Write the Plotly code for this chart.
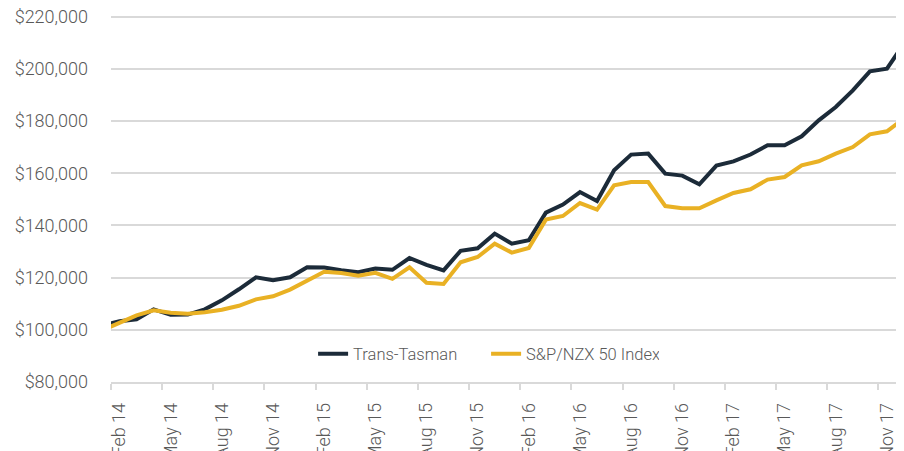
import plotly.graph_objects as go

months = ["Jan 14","Feb 14","Mar 14","Apr 14","May 14","Jun 14","Jul 14","Aug 14","Sep 14","Oct 14","Nov 14","Dec 14",
          "Jan 15","Feb 15","Mar 15","Apr 15","May 15","Jun 15","Jul 15","Aug 15","Sep 15","Oct 15","Nov 15","Dec 15",
          "Jan 16","Feb 16","Mar 16","Apr 16","May 16","Jun 16","Jul 16","Aug 16","Sep 16","Oct 16","Nov 16","Dec 16",
          "Jan 17","Feb 17","Mar 17","Apr 17","May 17","Jun 17","Jul 17","Aug 17","Sep 17","Oct 17","Nov 17","Dec 17"]

trans_tasman = [101700, 103260, 104020, 107850, 105750, 105820, 107850, 111300, 115520, 120110, 118960, 120110,
                123940, 123830, 122790, 122030, 123450, 122990, 127510, 124900, 122790, 130260, 131220, 136850,
                133020, 134290, 144900, 147960, 152790, 149340, 161100, 167120, 167500, 159840, 159070, 155740,
                162900, 164550, 167160, 170680, 170680, 174130, 180260, 185350, 191750, 199030, 200060, 209640]

nzx50 = [99810, 102680, 105550, 107470, 106510, 106130, 106700, 107660, 109190, 111680, 112830, 115400,
         118700, 122220, 121760, 120690, 121840, 119540, 123940, 118010, 117550, 125860, 127890, 133020,
         129580, 131340, 142220, 143600, 148580, 146050, 155360, 156620, 156620, 147430, 146550, 146550,
         149610, 152410, 153830, 157540, 158540, 163020, 164550, 167500, 170030, 174900, 176040, 180910]

y_ticks = [80000, 100000, 120000, 140000, 160000, 180000, 200000, 220000]
y_tick_labels = ["$80,000", "$100,000", "$120,000", "$140,000", "$160,000", "$180,000", "$200,000", "$220,000"]

# month index: Feb 14 = 0
x = [i - 1 for i in range(len(months))]
label_idx = [i for i in range(0, 46, 3)]
label_text = [months[i + 1] for i in label_idx]
minor_ticks = [i - 0.5 for i in label_idx]

FONT = "Roboto"
GREY = "#595959"
GRID = "#d9d9d9"

fig = go.Figure()
fig.add_trace(go.Scatter(x=x, y=trans_tasman, mode="lines", name="Trans-Tasman",
                         line=dict(color="#1c2b39", width=4)))
fig.add_trace(go.Scatter(x=x, y=nzx50, mode="lines", name="S&P/NZX 50 Index",
                         line=dict(color="#e9b124", width=4)))

fig.update_layout(
    width=896, height=443,
    margin=dict(l=103, r=0, t=5, b=69, autoexpand=False),
    paper_bgcolor="white", plot_bgcolor="white",
    font=dict(family=FONT, size=18, color=GREY, weight=300),
    showlegend=True,
    legend=dict(orientation="h", x=0.473, xanchor="center", y=0.076, yanchor="middle",
                font=dict(family=FONT, size=16.5, color=GREY, weight=300),
                entrywidth=128, entrywidthmode="pixels",
                bgcolor="rgba(0,0,0,0)", traceorder="normal"),
)
fig.update_xaxes(
    range=[-0.5, 46.0], showgrid=False, zeroline=False,
    showline=True, linecolor=GRID, linewidth=1.5,
    tickmode="array", tickvals=label_idx, ticktext=label_text, tickangle=-90,
    ticks="", ticklabelstandoff=12, ticklabeloverflow="allow",
    tickfont=dict(family=FONT, size=18, color=GREY, weight=300),
    minor=dict(tickmode="array", tickvals=minor_ticks, ticks="outside", ticklen=6,
               tickcolor=GRID, tickwidth=1.5, showgrid=False),
    automargin=False,
)
fig.update_yaxes(
    range=[80000, 221379], showgrid=True, gridcolor=GRID, gridwidth=1.5,
    zeroline=False, showline=False,
    tickmode="array", tickvals=y_ticks, ticktext=y_tick_labels,
    ticks="", ticklabelstandoff=22, ticklabeloverflow="allow",
    tickfont=dict(family=FONT, size=18, color=GREY, weight=300),
    automargin=False,
)

fig.write_html("out.html")
